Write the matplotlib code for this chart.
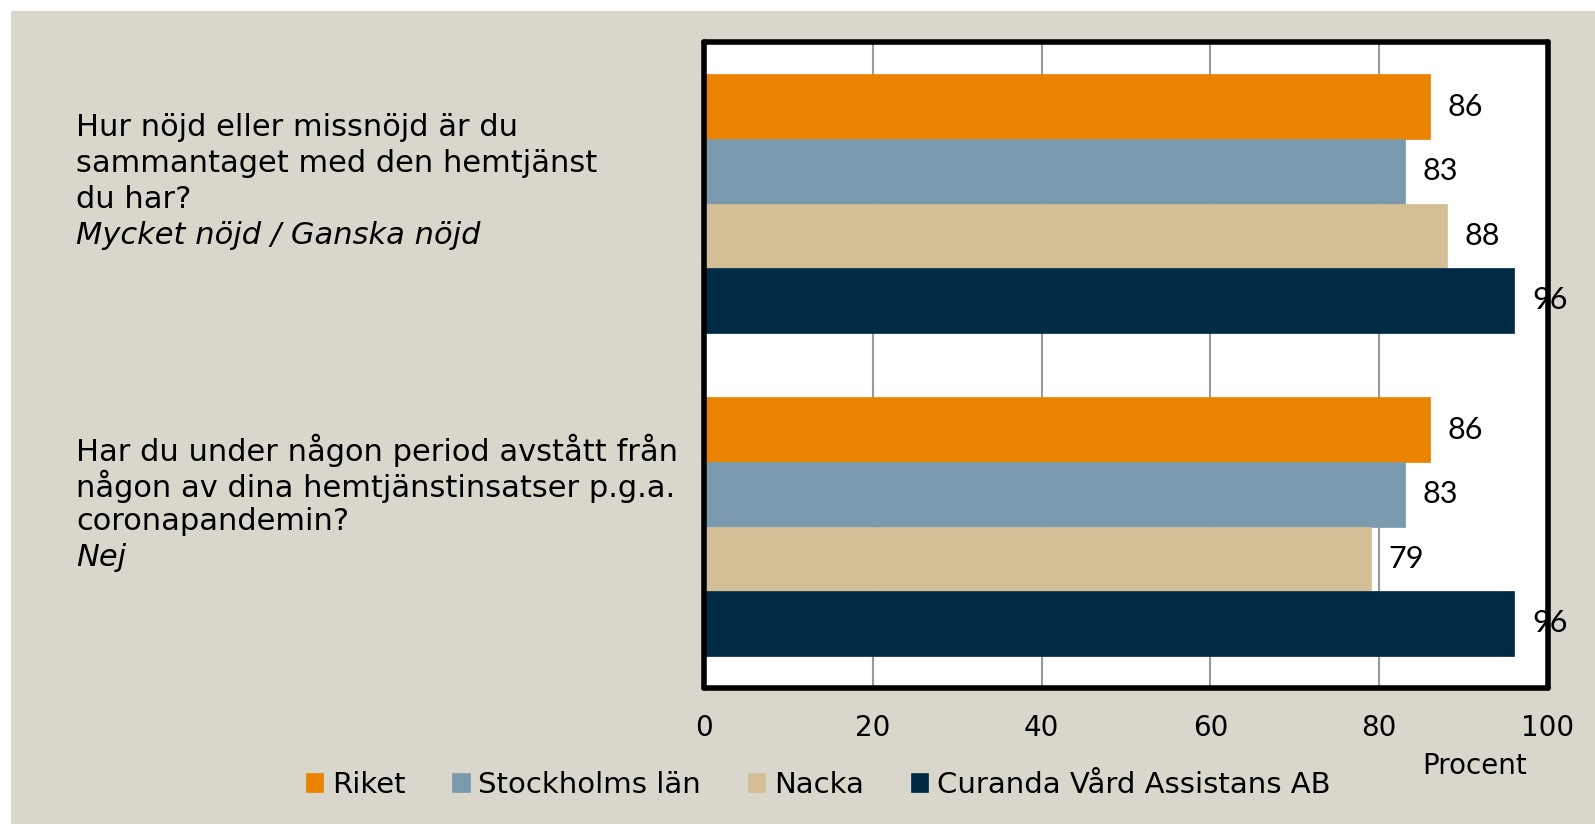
import numpy as np
import matplotlib.pyplot as plt
from matplotlib.patches import Rectangle

NARROW = ['Liberation Sans Narrow', 'DejaVu Sans']
ROUND = ['Lato', 'DejaVu Sans']

questions = [
    ["Hur nöjd eller missnöjd är du", "sammantaget med den hemtjänst", "du har?"],
    ["Har du under någon period avstått från", "någon av dina hemtjänstinsatser p.g.a.",
     "coronapandemin?"],
]
answers = ["Mycket nöjd / Ganska nöjd", "Nej"]
series = ["Riket", "Stockholms län", "Nacka", "Curanda Vård Assistans AB"]
colors = ["#E98300", "#7B9AAD", "#D4BE95", "#002B45"]
values = [
    [86, 86],   # Riket
    [83, 83],   # Stockholms län
    [88, 79],   # Nacka
    [96, 96],   # Curanda
]
xticks = [0, 20, 40, 60, 80, 100]

fig = plt.figure(figsize=(15.95, 8.24), dpi=100, facecolor='white')
fig.patches.append(Rectangle((11/1595, 0), 1, 1 - 11/824, transform=fig.transFigure,
                             facecolor='#D9D7CB', edgecolor='none', zorder=-10))

ax = fig.add_axes([704/1595, 1 - 688/824, 844/1595, 646/824])
ax.set_facecolor('white')

y = np.arange(len(questions))
h = 0.2
for i, (name, vals) in enumerate(zip(series, values)):
    pos = y - 0.3 + i * h
    bars = ax.barh(pos, vals, height=h, color=colors[i], label=name, zorder=2,
                   edgecolor=colors[i], linewidth=0.5)
    for b, v in zip(bars, vals):
        ax.annotate(str(v), (v, b.get_y() + b.get_height() / 2), xytext=(13, 0),
                    textcoords='offset points', ha='left', va='center',
                    fontsize=22, family=ROUND, zorder=5)

ax.set_xlim(0, 100)
ax.set_ylim(1.5, -0.5)
ax.set_xticks(xticks)
ax.set_xticklabels([str(t) for t in xticks], family=NARROW, fontsize=20)
ax.set_yticks([])
ax.tick_params(axis='x', length=0, pad=19)
ax.grid(axis='x', color='#9a9a9a', linewidth=1.5, zorder=0)
for s in ax.spines.values():
    s.set_linewidth(4)
    s.set_color('black')
    s.set_capstyle('round')
    s.set_joinstyle('round')

# question texts on the left, one line at a time
line_step = 36
for k, (lines, ans) in enumerate(zip(questions, answers)):
    top = [128, 450][k]
    for j, ln in enumerate(lines):
        fig.text(76/1595, 1 - (top + line_step * j)/824, ln, ha='left', va='center',
                 fontsize=22, family=NARROW)
    fig.text(76/1595, 1 - (top + line_step * len(lines))/824, ans, ha='left',
             va='center', fontsize=22, family=NARROW, style='italic')

fig.text(1475/1595, 1 - 766/824, "Procent", ha='center', va='center',
         fontsize=20, family=NARROW)

leg = fig.legend(loc='center', bbox_to_anchor=(818/1595, 1 - 785/824), ncol=4,
                 frameon=False, prop={'family': NARROW, 'size': 21},
                 handlelength=0.6, handleheight=0.6, handletextpad=0.3,
                 columnspacing=1.6)

fig.savefig('out.png', dpi=100, facecolor=fig.get_facecolor())
